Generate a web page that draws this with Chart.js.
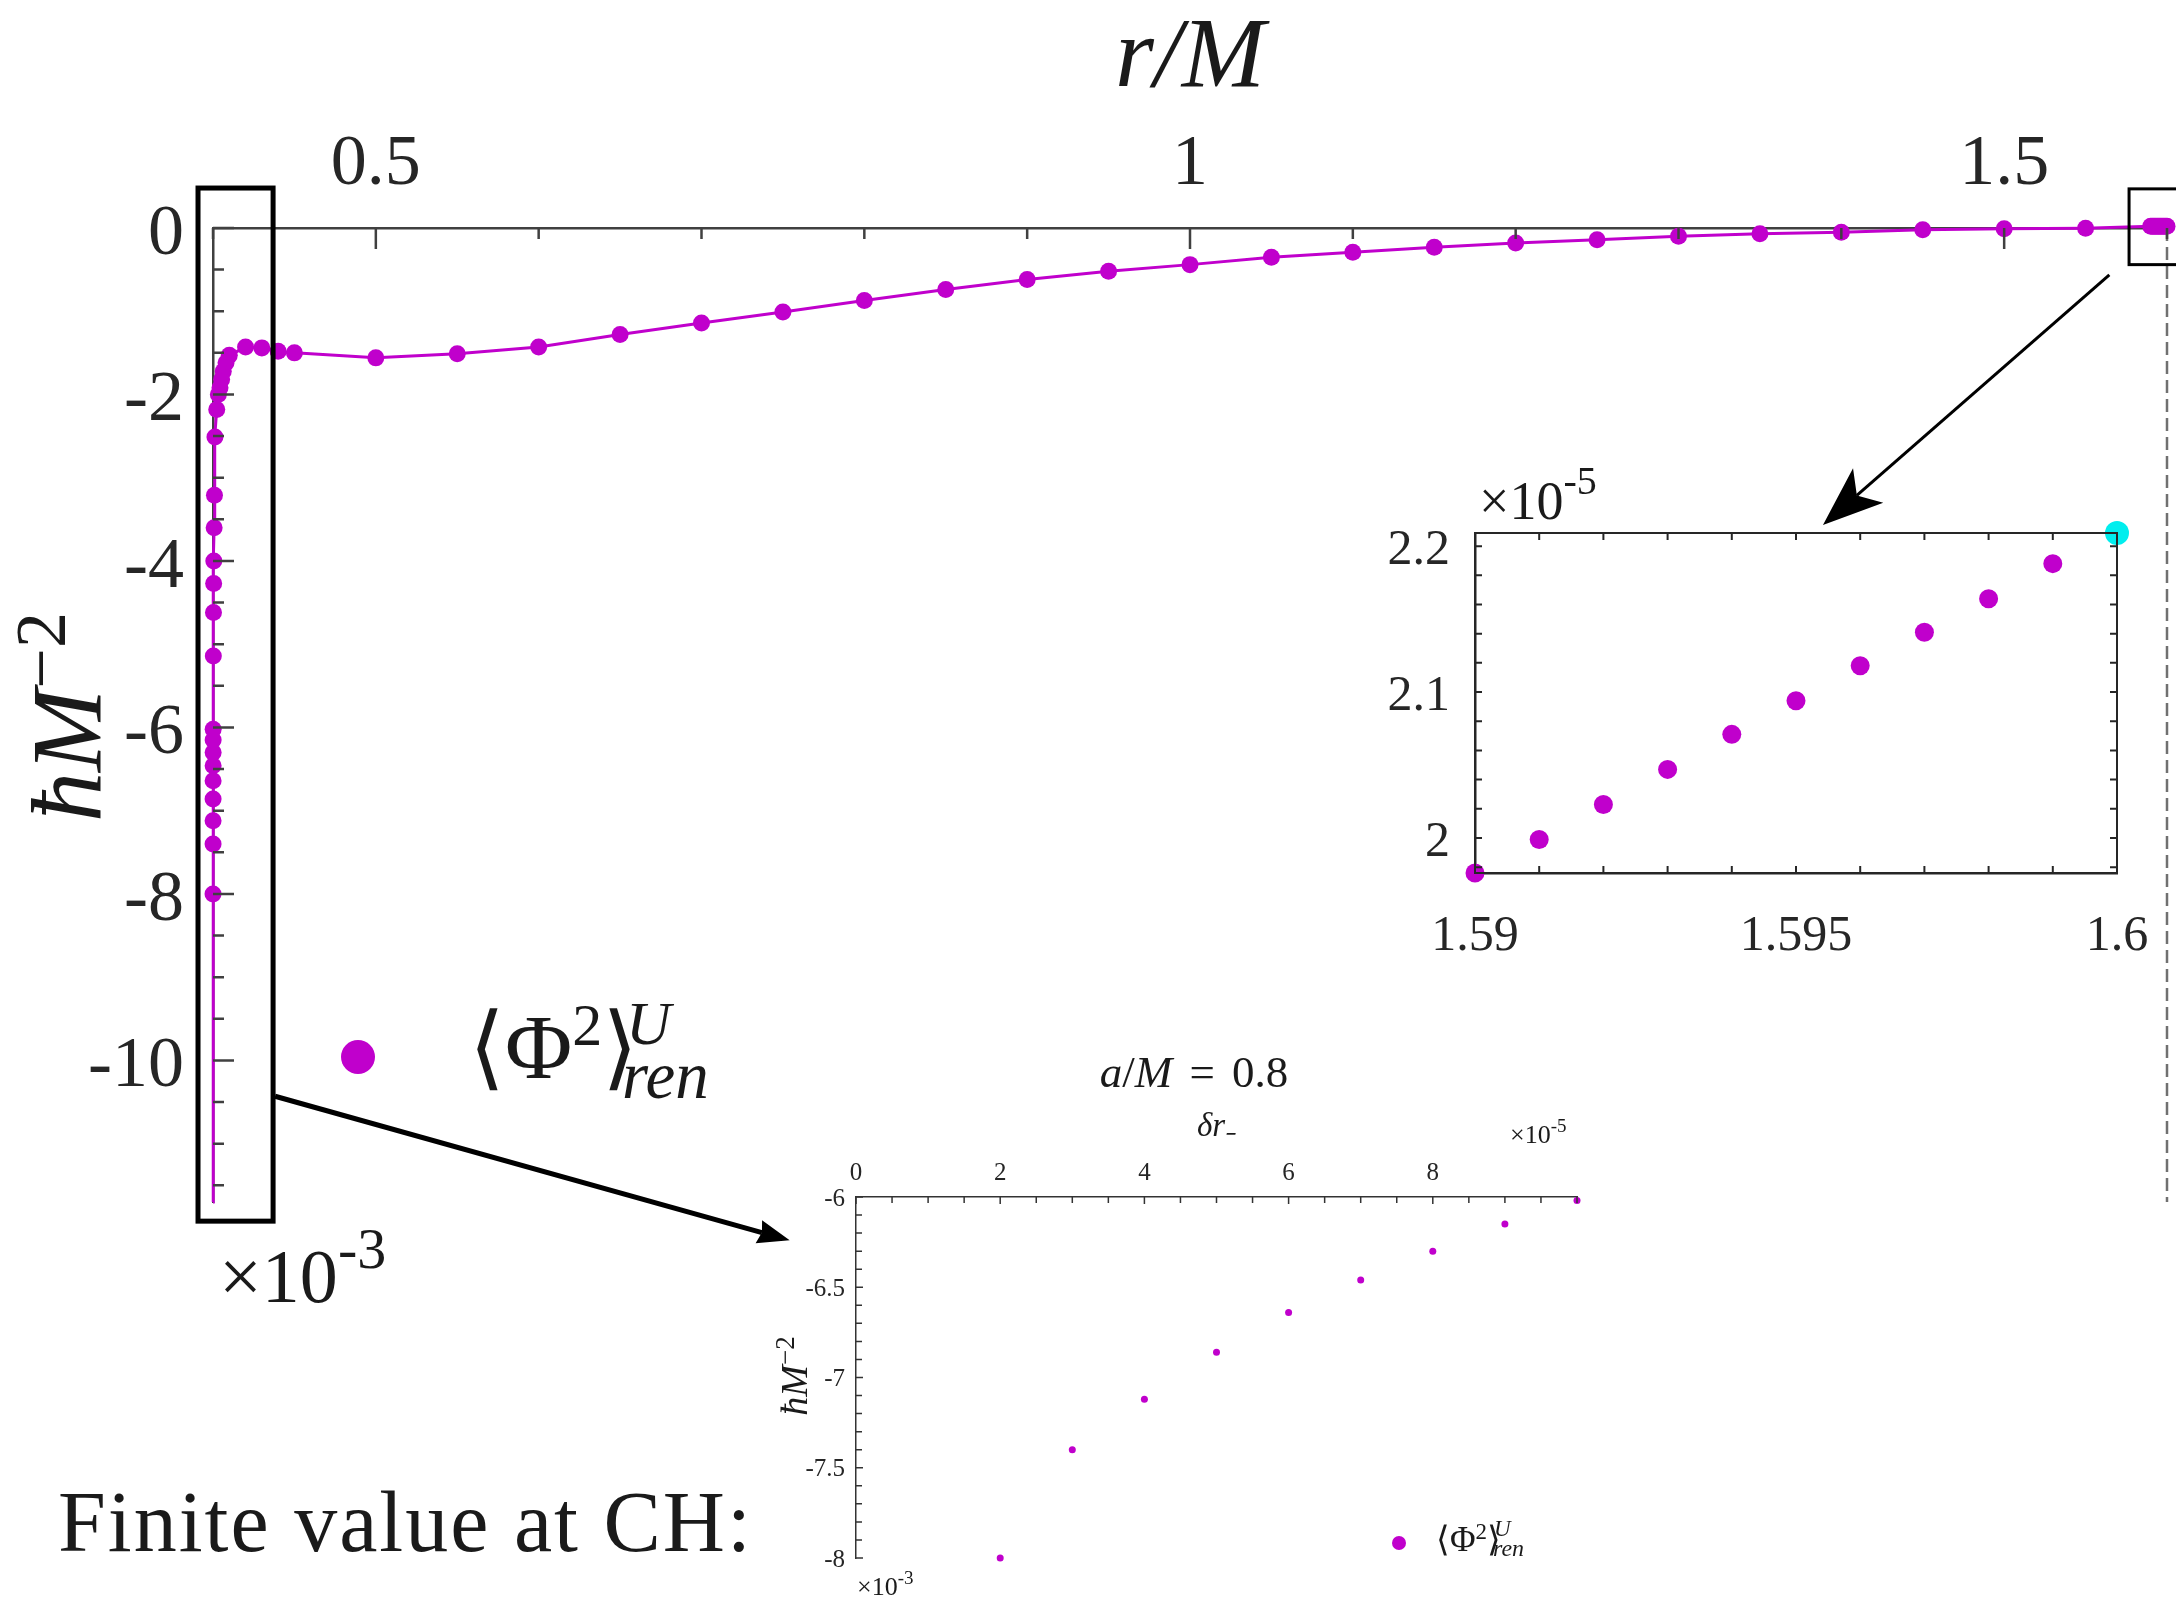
<!DOCTYPE html>
<html>
<head>
<meta charset="utf-8">
<title>Phi^2 U-state, a/M = 0.8</title>
<script src="https://cdn.jsdelivr.net/npm/chart.js@4.4.1/dist/chart.umd.min.js"></script>
<style>
  html, body { margin: 0; padding: 0; background: #fff; }
  #page { position: relative; width: 2176px; height: 1598px; overflow: hidden;
          font-family: 'Liberation Serif', 'Times New Roman', serif; color: #1a1a1a; }
  canvas { position: absolute; }
  .txt { position: absolute; white-space: nowrap; line-height: 1; }
  .it { font-style: italic; }
  .rot { transform: rotate(-90deg); transform-origin: 50% 50%; text-align: center; }
  .dot { position: absolute; border-radius: 50%; }
</style>
</head>
<body>
<div id="page">
  <canvas id="mainChart" width="2200" height="1598" style="left:0;top:0"></canvas>
  <canvas id="plusChart" width="816" height="540" style="left:1380px;top:440px"></canvas>
  <canvas id="minusChart" width="1000" height="558" style="left:700px;top:1040px"></canvas>
  <canvas id="arrows" width="2176" height="1598" style="left:0;top:0;pointer-events:none"></canvas>

  <div class="txt rot it" style="left:-133px;top:667px;width:400px;font-size:100px">ħM<span style="position:relative;top:-35px;font-size:72px;font-style:normal">−2</span></div>
  <div class="txt rot it" style="left:694px;top:1357px;width:200px;font-size:38px">ħM<span style="position:relative;top:-13px;font-size:27px;font-style:normal">−2</span></div>

  <div class="txt" style="left:58px;top:1479px;font-size:86px;letter-spacing:2px">Finite value at CH:</div>
  <div class="txt" style="left:219px;top:1238px;font-size:76px">×10<span style="position:relative;top:-34px;font-size:58px">-3</span></div>
  <div class="txt" style="left:1479px;top:474px;font-size:54px">×10<span style="position:relative;top:-25px;font-size:40px">-5</span></div>
  <div class="txt" style="left:1510px;top:1122px;font-size:26px">×10<span style="position:relative;top:-11px;font-size:19px">-5</span></div>
  <div class="txt" style="left:857px;top:1574px;font-size:26px">×10<span style="position:relative;top:-11px;font-size:19px">-3</span></div>
  <div class="txt" style="left:1044px;top:1050px;width:300px;text-align:center;font-size:45px;word-spacing:6px"><span class="it">a</span>/<span class="it">M</span> = 0.8</div>

  <div id="legMainDot" class="dot"></div>
  <div class="txt" style="left:469px;top:1001px;font-size:92px">⟨Φ<span style="position:relative;top:-33px;font-size:60px">2</span>⟩</div>
  <div class="txt it" style="left:626px;top:992px;font-size:62px">U</div>
  <div class="txt it" style="left:622px;top:1042px;font-size:67px">ren</div>

  <div id="legInsetDot" class="dot"></div>
  <div class="txt" style="left:1436px;top:1522px;font-size:35px">⟨Φ<span style="position:relative;top:-12px;font-size:23px">2</span>⟩</div>
  <div class="txt it" style="left:1494px;top:1517px;font-size:23px">U</div>
  <div class="txt it" style="left:1493px;top:1536px;font-size:24px">ren</div>
</div>
<script>
// ---- data ----
// main curve: r/M and <Phi^2>_ren^U in units of 1e-3 (hbar M^-2)
var rMain = [0.4002, 0.4003, 0.4004, 0.4005, 0.4007, 0.4009, 0.4012, 0.4023, 0.4033, 0.4043,
  0.4053, 0.4063, 0.408, 0.410, 0.42, 0.43, 0.44, 0.45, 0.50, 0.55, 0.60, 0.65, 0.70, 0.75,
  0.80, 0.85, 0.90, 0.95, 1.00, 1.05, 1.10, 1.15, 1.20, 1.25, 1.30, 1.35, 1.40, 1.45, 1.50, 1.55];
var phiMain = [-5.14, -4.62, -4.27, -4.00, -3.60, -3.21, -2.51, -2.18, -2.00, -1.92,
  -1.82, -1.72, -1.62, -1.53, -1.43, -1.44, -1.48, -1.50, -1.56, -1.51, -1.43, -1.28, -1.14, -1.01,
  -0.87, -0.74, -0.62, -0.52, -0.44, -0.35, -0.29, -0.23, -0.18, -0.14, -0.10, -0.07, -0.05, -0.02, -0.01, -0.003];
// close to the Cauchy horizon r_- = 0.4: dr_- in 1e-5, phi in 1e-3
var drMinus = [2, 3, 4, 5, 6, 7, 8, 9, 10];
var phiMinus = [-8.00, -7.40, -7.12, -6.86, -6.64, -6.46, -6.30, -6.15, -6.02];
// close to the event horizon r_+ = 1.6: phi in 1e-5
var rPlus = [1.590, 1.591, 1.592, 1.593, 1.594, 1.595, 1.596, 1.597, 1.598, 1.599];
var phiPlus = [1.976, 1.999, 2.023, 2.047, 2.071, 2.094, 2.118, 2.141, 2.164, 2.188];
var rHorizon = [1.6];
var phiHorizon = [2.209];
var rCH = 0.4;
var phiLineEnd = -11.7;   // where the solid line leaves the bottom of the axes

// tick labels
var mainXLabels = [0.5, 1, 1.5];
var mainYLabels = [0, -2, -4, -6, -8, -10];
var plusXLabels = [1.59, 1.595, 1.6];
var plusYLabels = [2, 2.1, 2.2];
var minusXLabels = [0, 2, 4, 6, 8];
var minusYLabels = [-6, -6.5, -7, -7.5, -8];

// zoom boxes on the main plot (r/M, value)
var boxCH = { r: [0.3908, 0.4369], v: [0.48, -11.93], width: 5 };
var boxEH = { r: [1.5767, 1.625], v: [0.47, -0.44], width: 3 };

var magenta = '#c000cc';
var cyan = '#00eeee';
var serif = "'Liberation Serif', 'Times New Roman', serif";

function tickRange(a, b, step) {
  var n = Math.round((b - a) / step), out = [];
  for (var i = 0; i <= n; i++) out.push(+(a + i * step).toFixed(6));
  return out;
}
function labelIf(list) {
  return function (v) {
    for (var i = 0; i < list.length; i++) if (Math.abs(v - list[i]) < 1e-9) return String(list[i]);
    return '';
  };
}
function fixTicks(vals) {
  return function (s) { s.ticks = vals.map(function (v) { return { value: v }; }); };
}

// ticks pointing into the axes (and optional closed box)
var innerTicks = {
  id: 'innerTicks',
  afterDatasetsDraw: function (chart, args, o) {
    if (!o || !o.major) return;
    var ctx = chart.ctx, a = chart.chartArea, x = chart.scales.x, y = chart.scales.y;
    ctx.save();
    ctx.strokeStyle = o.color;
    ctx.lineWidth = o.width;
    ctx.beginPath();
    var xe = x.position === 'top' ? [[a.top, 1]] : [[a.bottom, -1]];
    if (o.box) xe.push(x.position === 'top' ? [a.bottom, -1] : [a.top, 1]);
    x.ticks.forEach(function (t) {
      var px = x.getPixelForValue(t.value), len = t.label ? o.major : o.minor;
      xe.forEach(function (e) { ctx.moveTo(px, e[0]); ctx.lineTo(px, e[0] + e[1] * len); });
    });
    var ye = [[a.left, 1]];
    if (o.box) ye.push([a.right, -1]);
    y.ticks.forEach(function (t) {
      var py = y.getPixelForValue(t.value), len = t.label ? o.major : o.minor;
      ye.forEach(function (e) { ctx.moveTo(e[0], py); ctx.lineTo(e[0] + e[1] * len, py); });
    });
    ctx.stroke();
    if (o.box) ctx.strokeRect(a.left, a.top, a.right - a.left, a.bottom - a.top);
    ctx.restore();
  }
};
var zoomBoxes = {
  id: 'zoomBoxes',
  afterDraw: function (chart, args, o) {
    if (!o || !o.boxes) return;
    var ctx = chart.ctx, x = chart.scales.x, y = chart.scales.y;
    ctx.save();
    ctx.strokeStyle = '#000';
    o.boxes.forEach(function (b) {
      ctx.lineWidth = b.width;
      var x0 = x.getPixelForValue(b.r[0]), x1 = x.getPixelForValue(b.r[1]);
      var y0 = y.getPixelForValue(b.v[0]), y1 = y.getPixelForValue(b.v[1]);
      ctx.strokeRect(x0, y0, x1 - x0, y1 - y0);
    });
    ctx.restore();
  }
};
Chart.register(innerTicks, zoomBoxes);

// ---- main chart ----
var markers = [];
drMinus.forEach(function (d, i) { markers.push({ x: rCH + d * 1e-5, y: phiMinus[i] }); });
rMain.forEach(function (r, i) { markers.push({ x: r, y: phiMain[i] }); });
rPlus.forEach(function (r, i) { markers.push({ x: r, y: phiPlus[i] * 0.01 }); });
rHorizon.forEach(function (r, i) { markers.push({ x: r, y: phiHorizon[i] * 0.01 }); });
var curve = [{ x: rCH, y: phiLineEnd }].concat(markers);

var mainChart = new Chart(document.getElementById('mainChart'), {
  type: 'scatter',
  data: {
    datasets: [
      { label: 'r+', data: [{ x: rHorizon[0], y: 0 }, { x: rHorizon[0], y: phiLineEnd }], showLine: true,
        pointRadius: 0, borderColor: '#707070', borderWidth: 2.5, borderDash: [13, 6], clip: false },
      { label: 'line', data: curve, showLine: true, pointRadius: 0, borderColor: magenta,
        borderWidth: 3, clip: false },
      { label: '⟨Φ²⟩ren U', data: markers, pointRadius: 8.5, pointHoverRadius: 8.5,
        backgroundColor: magenta, borderWidth: 0, clip: false }
    ]
  },
  options: {
    responsive: false, animation: false, devicePixelRatio: 1,
    layout: { padding: { left: 0, top: 0, right: 33, bottom: 396 } },
    plugins: {
      legend: { display: false }, tooltip: { enabled: false },
      innerTicks: { major: 21, minor: 11, color: '#404040', width: 2.5 },
      zoomBoxes: { boxes: [boxCH, boxEH] }
    },
    scales: {
      x: {
        type: 'linear', position: 'top', min: 0.4, max: 1.6,
        afterBuildTicks: fixTicks(tickRange(0.4, 1.6, 0.1)),
        afterFit: function (s) { s.height = 228; },
        grid: { display: false, drawTicks: false },
        border: { display: true, color: '#404040', width: 2.5 },
        ticks: { autoSkip: false, maxRotation: 0, padding: 20, color: '#262626',
                 font: { family: serif, size: 72 }, callback: labelIf(mainXLabels) },
        title: { display: true, text: 'r/M', color: '#1a1a1a', padding: { top: 0, bottom: 0 },
                 font: { family: serif, size: 100, style: 'italic' } }
      },
      y: {
        type: 'linear', position: 'left', min: phiLineEnd, max: 0,
        afterBuildTicks: fixTicks(tickRange(-11.5, 0, 0.5)),
        afterFit: function (s) { s.width = 213; },
        grid: { display: false, drawTicks: false },
        border: { display: true, color: '#404040', width: 2.5 },
        ticks: { autoSkip: false, padding: 29, labelOffset: 7, color: '#262626',
                 font: { family: serif, size: 72 }, callback: labelIf(mainYLabels) }
      }
    }
  }
});

// ---- inset near r_+ ----
var plusChart = new Chart(document.getElementById('plusChart'), {
  type: 'scatter',
  data: {
    datasets: [
      { label: 'near r+', data: rPlus.map(function (r, i) { return { x: r, y: phiPlus[i] }; }),
        pointRadius: 9.5, backgroundColor: magenta, borderWidth: 0, clip: false },
      { label: 'r+', data: rHorizon.map(function (r, i) { return { x: r, y: phiHorizon[i] }; }),
        pointRadius: 12, backgroundColor: cyan, borderWidth: 0, clip: false }
    ]
  },
  options: {
    responsive: false, animation: false, devicePixelRatio: 1,
    layout: { padding: { left: 0, top: 93, right: 79, bottom: 0 } },
    plugins: {
      legend: { display: false }, tooltip: { enabled: false },
      innerTicks: { major: 7, minor: 7, color: '#262626', width: 2, box: true }
    },
    scales: {
      x: {
        type: 'linear', position: 'bottom', min: 1.59, max: 1.6,
        afterBuildTicks: fixTicks(tickRange(1.59, 1.6, 0.001)),
        afterFit: function (s) { s.height = 107; },
        grid: { display: false, drawTicks: false },
        border: { display: true, color: '#262626', width: 2.5 },
        ticks: { autoSkip: false, maxRotation: 0, padding: 34, color: '#262626',
                 font: { family: serif, size: 50 }, callback: labelIf(plusXLabels) }
      },
      y: {
        type: 'linear', position: 'left', min: 1.976, max: phiHorizon[0],
        afterBuildTicks: fixTicks(tickRange(1.98, 2.2, 0.02)),
        afterFit: function (s) { s.width = 95; },
        grid: { display: false, drawTicks: false },
        border: { display: true, color: '#262626', width: 2.5 },
        ticks: { autoSkip: false, padding: 25, labelOffset: 5, color: '#262626',
                 font: { family: serif, size: 50 }, callback: labelIf(plusYLabels) }
      }
    }
  }
});

// ---- inset near r_- (Cauchy horizon) ----
var minusChart = new Chart(document.getElementById('minusChart'), {
  type: 'scatter',
  data: {
    datasets: [
      { label: '⟨Φ²⟩ren U', data: drMinus.map(function (d, i) { return { x: d, y: phiMinus[i] }; }),
        pointRadius: 3.5, backgroundColor: magenta, borderWidth: 0, clip: false }
    ]
  },
  options: {
    responsive: false, animation: false, devicePixelRatio: 1,
    layout: { padding: { left: 0, top: 0, right: 123, bottom: 40 } },
    plugins: {
      legend: { display: false }, tooltip: { enabled: false },
      innerTicks: { major: 7, minor: 6, color: '#333', width: 1.5 }
    },
    scales: {
      x: {
        type: 'linear', position: 'top', min: 0, max: 10,
        afterBuildTicks: fixTicks(tickRange(0, 10, 0.5)),
        afterFit: function (s) { s.height = 157; },
        grid: { display: false, drawTicks: false },
        border: { display: true, color: '#333', width: 1.5 },
        ticks: { autoSkip: false, maxRotation: 0, padding: 9, color: '#262626',
                 font: { family: serif, size: 25 }, callback: labelIf(minusXLabels) },
        title: { display: true, text: 'δr₋', color: '#1a1a1a', padding: { top: 68, bottom: 0 },
                 font: { family: serif, size: 33, style: 'italic' } }
      },
      y: {
        type: 'linear', position: 'left', min: -8, max: -6,
        afterBuildTicks: fixTicks(tickRange(-8, -6, 0.1)),
        afterFit: function (s) { s.width = 156; },
        grid: { display: false, drawTicks: false },
        border: { display: true, color: '#333', width: 1.5 },
        ticks: { autoSkip: false, padding: 11, labelOffset: 2, color: '#262626',
                 font: { family: serif, size: 25 }, callback: labelIf(minusYLabels) }
      }
    }
  }
});

// legend dots take the series colour
function placeDot(id, cx, cy, r) {
  var d = document.getElementById(id);
  d.style.left = (cx - r) + 'px'; d.style.top = (cy - r) + 'px';
  d.style.width = (2 * r) + 'px'; d.style.height = (2 * r) + 'px';
  d.style.background = mainChart.data.datasets[2].backgroundColor;
}
placeDot('legMainDot', 358, 1057, 17);
placeDot('legInsetDot', 1399, 1543, 7);

// ---- arrows from the zoom boxes to the insets ----
function arrow(ctx, x0, y0, x1, y1, lw, L, W, notch) {
  var ang = Math.atan2(y1 - y0, x1 - x0), ux = Math.cos(ang), uy = Math.sin(ang);
  var bx = x1 - ux * L, by = y1 - uy * L;
  ctx.lineWidth = lw;
  ctx.beginPath(); ctx.moveTo(x0, y0); ctx.lineTo(x1 - ux * L * notch, y1 - uy * L * notch); ctx.stroke();
  ctx.beginPath();
  ctx.moveTo(x1, y1);
  ctx.lineTo(bx - uy * W, by + ux * W);
  ctx.lineTo(x1 - ux * L * notch, y1 - uy * L * notch);
  ctx.lineTo(bx + uy * W, by - ux * W);
  ctx.closePath(); ctx.fill();
}
function pagePos(chart, canvasId, xv, yv) {
  var c = document.getElementById(canvasId);
  return [c.offsetLeft + chart.scales.x.getPixelForValue(xv), c.offsetTop + chart.scales.y.getPixelForValue(yv)];
}
var actx = document.getElementById('arrows').getContext('2d');
actx.strokeStyle = '#000'; actx.fillStyle = '#000';
var a0 = pagePos(mainChart, 'mainChart', boxCH.r[1] + 0.0012, -10.43);
var a1 = pagePos(minusChart, 'minusChart', -0.92, -6.24);
arrow(actx, a0[0], a0[1], a1[0], a1[1], 5, 32, 12, 0.9);
var b0 = pagePos(mainChart, 'mainChart', 1.5646, -0.564);
var b1 = pagePos(plusChart, 'plusChart', 1.59542, 2.2145);
arrow(actx, b0[0], b0[1], b1[0], b1[1], 3, 60, 23, 0.75);
</script>
</body>
</html>
